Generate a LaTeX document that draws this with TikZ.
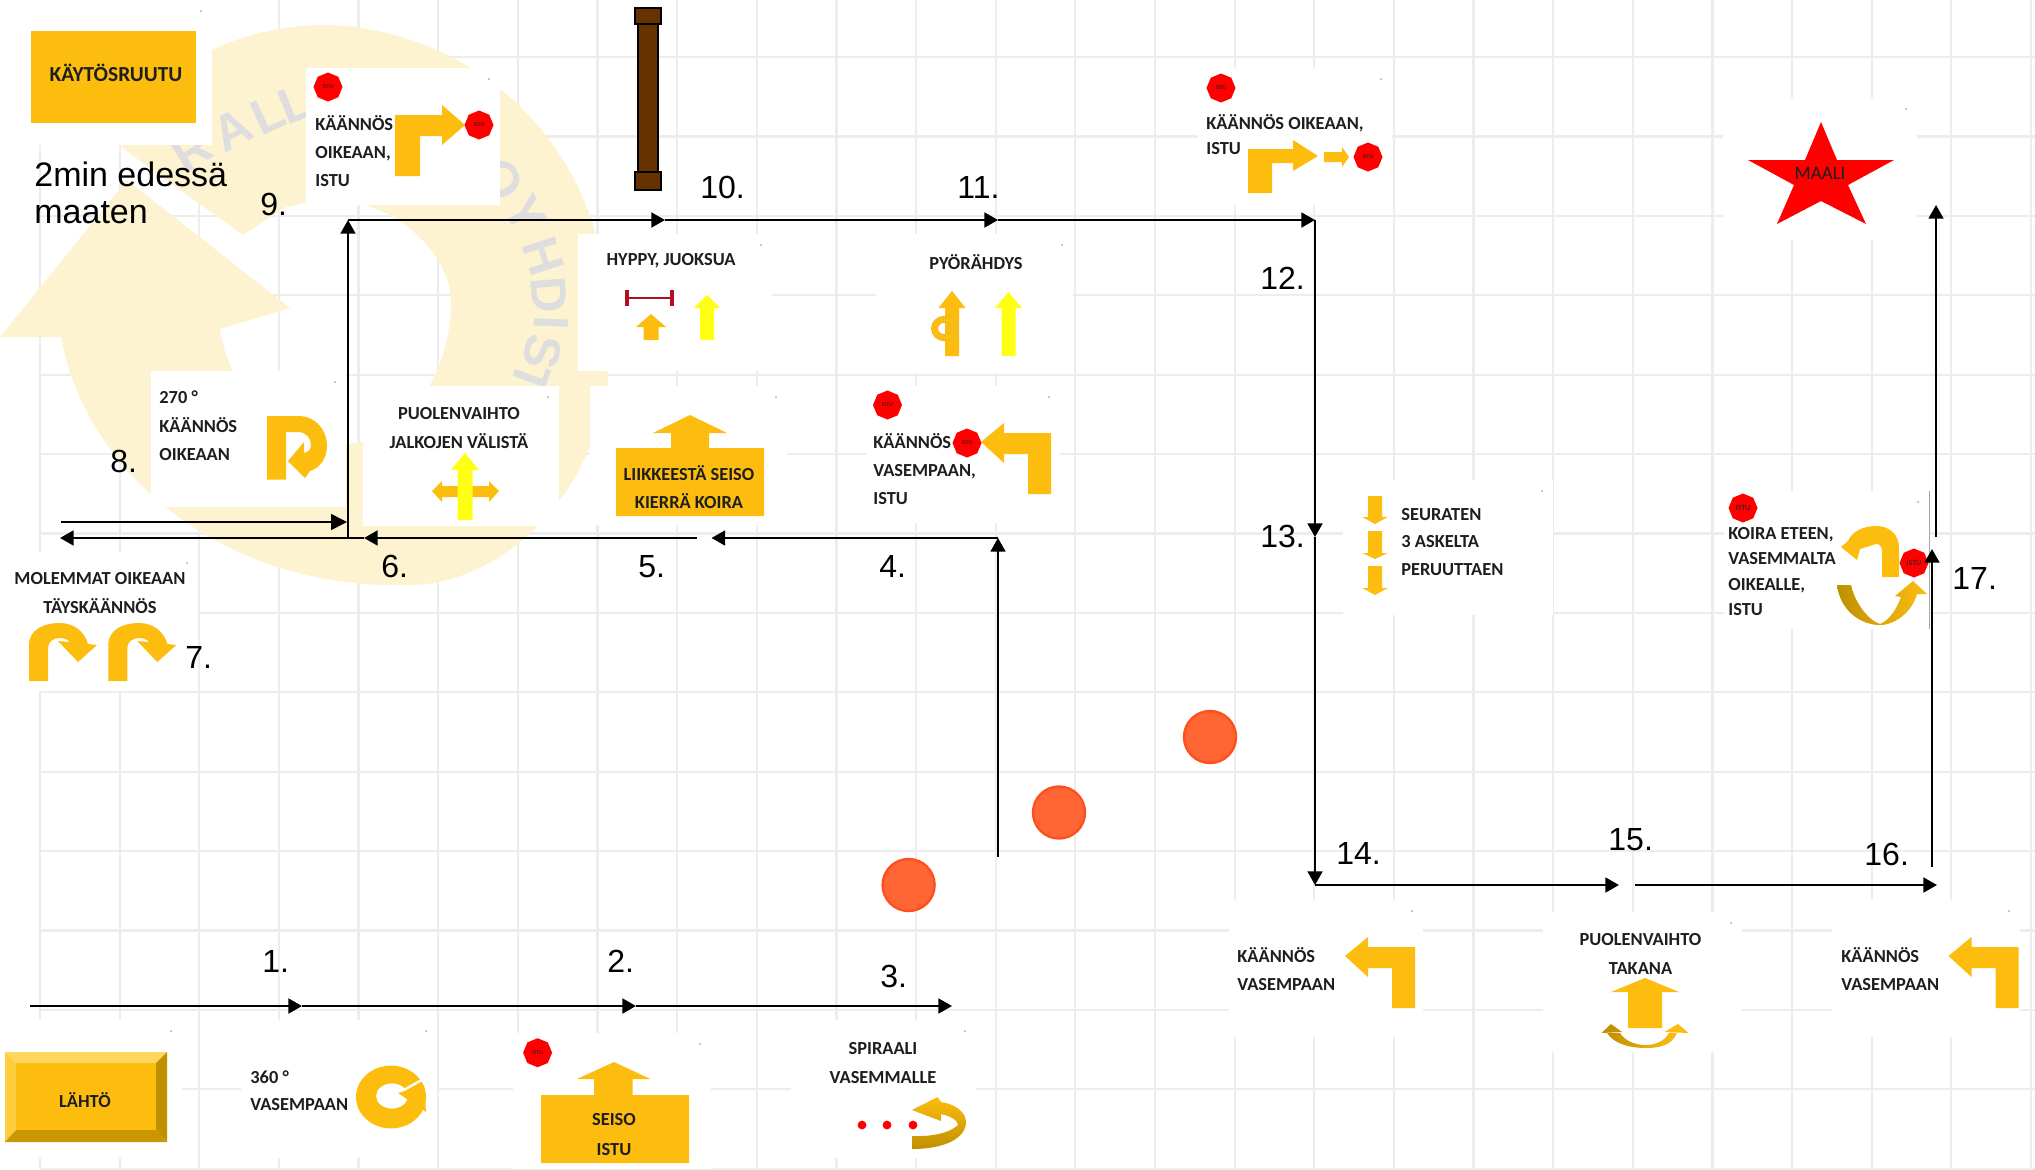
\documentclass[tikz,border=0pt]{standalone}
\usepackage{fontspec}
\setmainfont{Liberation Sans}
\newfontfamily\cardfont{Carlito}
\usetikzlibrary{arrows.meta,shapes.geometric}
\definecolor{amber}{HTML}{FDBD0F}
\definecolor{amberdark}{HTML}{BF9000}
\definecolor{amberlight}{HTML}{FFD75E}
\definecolor{signyellow}{HTML}{FFFF14}
\definecolor{gridgray}{HTML}{EDEDED}
\definecolor{wmyellow}{HTML}{FDF3D0}
\definecolor{wmgray}{HTML}{DEDEDE}
\definecolor{postbrown}{HTML}{663300}
\definecolor{dotorange}{HTML}{FF6633}
\definecolor{dotedge}{HTML}{FF4F1F}
\definecolor{bardark}{HTML}{B01020}
\definecolor{inktext}{HTML}{1E1E1E}
\tikzset{
  route/.style={line width=1.15pt,-{Triangle[length=6.8pt,width=7.4pt]}},
  thinroute/.style={line width=0.85pt,-{Triangle[length=8pt,width=8pt]}},
  txt/.style={font=\cardfont\bfseries\fontsize{9.2}{#1}\selectfont,text=inktext,inner sep=0pt},
  txt/.default=14.2,
  num/.style={font=\fontsize{16}{16}\selectfont,anchor=base west,inner sep=0pt},
  stopsign/.style={regular polygon,regular polygon sides=8,shape border rotate=22.5,fill=red,inner sep=0pt,minimum size=14.5pt,font=\cardfont\fontsize{3}{3}\selectfont,text=inktext},
  wmark/.style={font=\bfseries\fontsize{25}{25}\selectfont,text=wmgray,inner sep=0pt}
}
\newcommand{\signup}[7]{\fill[#7] (#1,#2) -- ({#1+#4},#3) -- ({#1+#5},#3) -- ({#1+#5},#6) -- ({#1-#5},#6) -- ({#1-#5},#3) -- ({#1-#4},#3) -- cycle;}
\newcommand{\signleft}[2]{\fill[amber,shift={(#1,#2)}] (1415,1008) -- (1415,947) -- (1368,947) -- (1368,937) -- (1345,956) -- (1368,977) -- (1368,968) -- (1392,968) -- (1392,1008) -- cycle;}
\begin{document}
\begin{tikzpicture}[x=0.5pt,y=-0.5pt]
  \useasboundingbox (0,0) rectangle (2035,1169);
  \fill[white] (0,0) rectangle (2035,1169);
  \foreach \k in {0,...,25} {
      \draw[gridgray,line width=1.1pt] ({40+79.64*\k},0) -- ({40+79.64*\k},1169);
    }
  \foreach \k in {0,...,14} {
      \draw[gridgray,line width=1.1pt] (40,{57+79.4*\k}) -- (2035,{57+79.4*\k});
    }
  \fill[wmyellow] (212,50) .. controls (250,32) and (290,25) .. (327,25) .. controls (480,30) and (600,150) .. (606,300) -- (608,383) .. controls (590,500) and (500,585) .. (408,585) .. controls (220,590) and (85,470) .. (61,337) -- (0,337) -- (127,180) -- (290,308) -- (220,329) .. controls (228,390) and (280,444) .. (347,444) .. controls (410,440) and (451,370) .. (451,302) .. controls (451,250) and (390,199) .. (327,199) -- (286,207) -- (243,235) -- (118,145) -- cycle;
  \foreach \ch/\px/\py/\rot [count=\i] in {R/192/150/32,A/232/130/28,L/268/114/25,L/295/104/22,O/502/180/-55,Y/526/214/-62,H/543/256/-72,D/549/295/-85,I/551/323/-92,S/543/352/-100,T/530/379/-110} {
      \node[wmark,rotate=\rot] (wm\i) at (\px,\py) {\ch};
    }
  \foreach \xa/\ya/\xb/\yb in {0/0/212/145,306/68/500/205,578/234/772/371,876/234/1073/373,1198/68/1392/205,1723/98/1917/240,151/371/346/507,363/386/559/526,590/386/787/525,866/386/1060/523,1343/480/1553/615,1724/491/1929/629,20/552/198/691,0/1020/182/1158,241/1020/437/1158,513/1033/711/1169,791/1020/976/1158,1229/900/1423/1037,1543/912/1742/1052,1832/900/2020/1037} {
      \fill[white] (\xa,\ya) rectangle (\xb,\yb);
      \fill[gray!70] ({\xb-11},{\ya+11}) circle (0.5pt);
    }
  \draw[gray!70,line width=0.4pt] (1929,491) -- (1929,629);

  \fill[amber] (31,31) rectangle (196,123);
  \node[txt,font=\cardfont\bfseries\fontsize{10.7}{12}\selectfont] (kaytos) at (116,73) {KÄYTÖSRUUTU};
  \node[anchor=base west,inner sep=0pt,align=left,font=\fontsize{17}{18.5}\selectfont] (edessa) at (34,223) {2min edessä\\maaten};

  \fill[postbrown,draw=black,line width=1pt] (637.5,24) rectangle (657.5,172);
  \fill[postbrown,draw=black,line width=1pt] (635,8) rectangle (661,24);
  \fill[postbrown,draw=black,line width=1pt] (635,172) rectangle (661,190);

  \node[stopsign] (stop9a) at (328,87) {ISTU};
  \node[txt,anchor=west,align=left] (c9) at (315,151) {KÄÄNNÖS\\OIKEAAN,\\ISTU};
  \fill[amber] (395,176) -- (395,115) -- (442,115) -- (442,105) -- (465,125) -- (442,145) -- (442,136) -- (420,136) -- (420,176) -- cycle;
  \node[stopsign] (stop9b) at (479,125) {ISTU};

  \node[txt] (c10) at (671,261) {HYPPY, JUOKSUA};
  \draw[bardark,line width=1.4pt] (627,298) -- (672,298);
  \draw[bardark,line width=2pt] (627,290) -- (627,306) (672,290) -- (672,306);
  \signup{651}{314}{327}{15}{7.5}{340}{amber}
  \signup{707}{295}{308}{13.5}{7}{340}{signyellow}

  \node[txt] (c11) at (976,262) {PYÖRÄHDYS};
  \signup{952}{291}{308}{13.5}{7}{356}{amber}
  \draw[amberdark!70,line width=3.4pt] (944.5,328.5) ellipse [x radius=5pt,y radius=4.6pt];
  \draw[amber,line width=2.9pt] (944.5,328.5) ellipse [x radius=5pt,y radius=4.6pt];
  \signup{1008.5}{292}{308}{13.5}{7}{356}{signyellow}

  \node[stopsign] (stop12a) at (1221,88) {ISTU};
  \node[txt=12.5,anchor=west,align=left] (c12) at (1206,135) {KÄÄNNÖS OIKEAAN,\\ISTU};
  \fill[amber] (1248,193) -- (1248,149) -- (1293,149) -- (1293,140) -- (1318,156) -- (1293,171) -- (1293,163) -- (1272,163) -- (1272,193) -- cycle;
  \fill[amber] (1324,152) -- (1342,152) -- (1342,147) -- (1349,157) -- (1342,167) -- (1342,162) -- (1324,162) -- cycle;
  \node[stopsign] (stop12b) at (1368,157) {ISTU};

  \fill[red] (1821,122) -- (1837,160) -- (1894,160) -- (1848,185) -- (1866,224) -- (1821,201) -- (1777,224) -- (1794,185) -- (1748,160) -- (1805,160) -- cycle;
  \node[inner sep=0pt,text=inktext,font=\cardfont\fontsize{9.5}{10}\selectfont] (maali) at (1820,173) {MAALI};

  \node[txt,anchor=west,align=left] (c8) at (159,426) {270 °\\KÄÄNNÖS\\OIKEAAN};
  \fill[amber] (267,416) -- (298,416) .. controls (316,416) and (327,430) .. (327,446) .. controls (327,458) and (320,468) .. (310,471) -- (305,478) -- (288,461) -- (304,442) -- (304,453) .. controls (309,452) and (311,449) .. (311,445) .. controls (311,438) and (306,432) .. (298,432) -- (286,432) -- (286,479.5) -- (267,479.5) -- cycle;

  \node[txt,align=center] (c6) at (459,428) {PUOLENVAIHTO\\JALKOJEN VÄLISTÄ};
  \fill[amber] (432,491) -- (442,481) -- (442,486) -- (489,486) -- (489,481) -- (499,491) -- (489,502) -- (489,497) -- (442,497) -- (442,502) -- cycle;
  \signup{465}{453}{470}{14}{7.5}{520}{signyellow}

  \fill[amber] (690,415) -- (727,433) -- (709,433) -- (709,448) -- (764,448) -- (764,516) -- (616,516) -- (616,448) -- (671,448) -- (671,433) -- (653,433) -- cycle;
  \node[txt,align=center] (c5) at (689,487) {LIIKKEESTÄ SEISO\\KIERRÄ KOIRA};

  \node[stopsign] (stop4a) at (887.5,405) {ISTU};
  \node[txt,anchor=west,align=left] (c4) at (873,469) {KÄÄNNÖS\\VASEMPAAN,\\ISTU};
  \signleft{-364}{-514}
  \node[stopsign] (stop4b) at (967,443) {ISTU};

  \signup{1375}{524}{517}{12.7}{7}{496}{amber}
  \signup{1375}{559}{553}{12.7}{7}{531}{amber}
  \signup{1375}{595}{588}{12.7}{7}{566}{amber}
  \node[txt=13.6,anchor=west,align=left] (c13) at (1401,542) {SEURATEN\\3 ASKELTA\\PERUUTTAEN};

  \node[stopsign,font=\cardfont\fontsize{4}{4}\selectfont] (stop17a) at (1743,508) {ISTU};
  \node[txt=12.8,anchor=west,align=left] (c17) at (1728,571.5) {KOIRA ETEEN,\\VASEMMALTA\\OIKEALLE,\\ISTU};
  \fill[amber] (1899,577) -- (1899,548) .. controls (1899,535) and (1890,526) .. (1876,526) .. controls (1864,526) and (1852,531) .. (1848,541) -- (1841,547) -- (1857,560) -- (1860,549) -- (1873,545) .. controls (1876,543) and (1882,543) .. (1882,552) -- (1882,577) -- cycle;
  \shade[left color=amberdark,right color=amber] (1837,585) -- (1851,585) .. controls (1855,603) and (1868,620) .. (1880,624) .. controls (1890,620) and (1897,608) .. (1901,597) -- (1895,596) -- (1913,581) -- (1927,594) -- (1917,594) .. controls (1912,612) and (1895,625) .. (1880,625) .. controls (1860,625) and (1840,610) .. (1837,585) -- cycle;
  \node[stopsign,font=\cardfont\fontsize{4}{4}\selectfont] (stop17b) at (1914,563) {ISTU};

  \node[txt,align=center] (c7) at (100,593) {MOLEMMAT OIKEAAN\\TÄYSKÄÄNNÖS};
  \foreach \dx in {0,79.3} {
      \fill[amber,shift={(\dx,0)}] (29,681) -- (29,645) .. controls (29,630) and (43,623) .. (60,623) .. controls (74,623) and (85,632) .. (88,644) -- (97,645) -- (78,662) -- (58,641) -- (70,642) .. controls (67,639) and (63,638) .. (60,638) .. controls (53,638) and (48,642) .. (48,648) -- (48,681) -- cycle;
    }

  \foreach \cx/\cy [count=\i] in {908.6/885,1059/812.5,1210/737} {
      \node[circle,fill=dotorange,draw=dotedge,line width=1.2pt,minimum size=26pt,inner sep=0pt] (dot\i) at (\cx,\cy) {};
    }

  \fill[amber] (16,1063) rectangle (156,1130);
  \fill[amberlight] (5,1052) -- (167,1052) -- (156,1063) -- (16,1063) -- cycle;
  \fill[amberlight!60!amber] (5,1052) -- (16,1063) -- (16,1130) -- (5,1142) -- cycle;
  \fill[amberdark] (167,1052) -- (156,1063) -- (156,1130) -- (167,1142) -- cycle;
  \fill[amberdark!85!amber] (5,1142) -- (16,1130) -- (156,1130) -- (167,1142) -- cycle;
  \node[txt] (lahto) at (85,1100) {LÄHTÖ};

  \node[txt=13.6,anchor=west,align=left] (c1) at (250,1090.5) {360 °\\VASEMPAAN};
  \fill[amber,even odd rule] (391,1097) ellipse [x radius=17.5pt,y radius=15.7pt] (392,1096) ellipse [x radius=8pt,y radius=6.3pt];
  \draw[white,line width=1.2pt] (402,1091) -- (427,1077);
  \fill[amber] (426,1112) -- (398,1093) -- (424,1085) -- cycle;

  \node[stopsign] (stop2) at (537.6,1052.7) {ISTU};
  \fill[amber] (614,1062) -- (650.5,1079) -- (632.6,1079) -- (632.6,1095) -- (689,1095) -- (689,1163) -- (541,1163) -- (541,1095) -- (594,1095) -- (594,1079) -- (577,1079) -- cycle;
  \node[txt=15,align=center] (c2) at (614,1135) {SEISO\\ISTU};

  \node[txt,align=center] (c3) at (883,1063) {SPIRAALI\\VASEMMALLE};
  \foreach \dotx in {862,887,913} {
      \fill[red] (\dotx,1125) circle (2.2pt);
    }
  \shade[top color=amber,bottom color=amberdark] (912,1149) .. controls (945,1149) and (966,1138) .. (966,1122) .. controls (966,1112) and (955,1104) .. (941,1102) -- (937.5,1097) -- (912,1110) -- (941,1121) -- (941,1114) .. controls (950,1116) and (958,1120) .. (958,1125) .. controls (950,1133) and (930,1137) .. (912,1136) -- cycle;

  \node[txt,anchor=west,align=left] (c14) at (1237,969) {KÄÄNNÖS\\VASEMPAAN};
  \signleft{0}{0}
  \node[txt,align=center] (c15) at (1640.5,954) {PUOLENVAIHTO\\TAKANA};
  \signup{1645}{978}{992}{34}{17}{1028}{amber}
  \shade[left color=amberdark,right color=amber] (1607,1033) .. controls (1615,1045) and (1632,1048) .. (1646,1048) .. controls (1660,1048) and (1672,1045) .. (1677,1033) -- (1669,1033) .. controls (1665,1041) and (1655,1045) .. (1646,1045) .. controls (1635,1045) and (1625,1041) .. (1620,1033) -- cycle;
  \fill[amberdark] (1611,1024) -- (1601.5,1033) -- (1622,1032) -- cycle;
  \fill[amber] (1678,1024) -- (1664.5,1032) -- (1688.5,1033) -- cycle;
  \node[txt,anchor=west,align=left] (c16) at (1841,969) {KÄÄNNÖS\\VASEMPAAN};
  \signleft{603.5}{0}

  \coordinate (start) at (30,1006);
  \coordinate (t1) at (302,1006);
  \coordinate (t2) at (636,1006);
  \coordinate (t3) at (952,1006);
  \coordinate (s4) at (998,857);
  \coordinate (c4b) at (998,538);
  \coordinate (t4) at (711.5,538);
  \coordinate (s5) at (697,538);
  \coordinate (t5) at (364,538);
  \coordinate (t6) at (60,538);
  \coordinate (s6) at (348,538);
  \coordinate (c9b) at (348,220);
  \coordinate (s7) at (61,522);
  \coordinate (t7) at (347,522);
  \coordinate (t10) at (665,220);
  \coordinate (t11) at (998,220);
  \coordinate (t12) at (1315,220);
  \coordinate (t13) at (1315,537);
  \coordinate (t14) at (1315,885);
  \coordinate (t15) at (1619,885);
  \coordinate (s16) at (1635,885);
  \coordinate (t16) at (1937,885);
  \coordinate (s17) at (1932,867);
  \coordinate (t17) at (1932,549);
  \coordinate (s18) at (1936,537);
  \coordinate (t18) at (1936,205);
  \foreach \a/\b in {start/t1,t1/t2,t2/t3,s4/c4b,c4b/t4,s5/t5,t5/t6,s6/c9b,c9b/t10,t10/t11,t11/t12,t12/t13,t13/t14,t14/t15,s16/t16,s17/t17,s18/t18} {
      \draw[route] (\a) -- (\b);
    }
  \draw[thinroute] (s7) -- (t7);

  \foreach \lbl/\nx/\ny [count=\i] in {1./262/972,2./607/972,3./880/987,4./879/577,5./638/577,6./381/577,7./185/668,8./110/472,9./260/215,10./700/198,11./957/198,12./1260/289,13./1260/547,14./1336/864,15./1608/850,16./1864/865,17./1952/589} {
      \node[num] (n\i) at (\nx,\ny) {\lbl};
    }
\end{tikzpicture}
\end{document}
